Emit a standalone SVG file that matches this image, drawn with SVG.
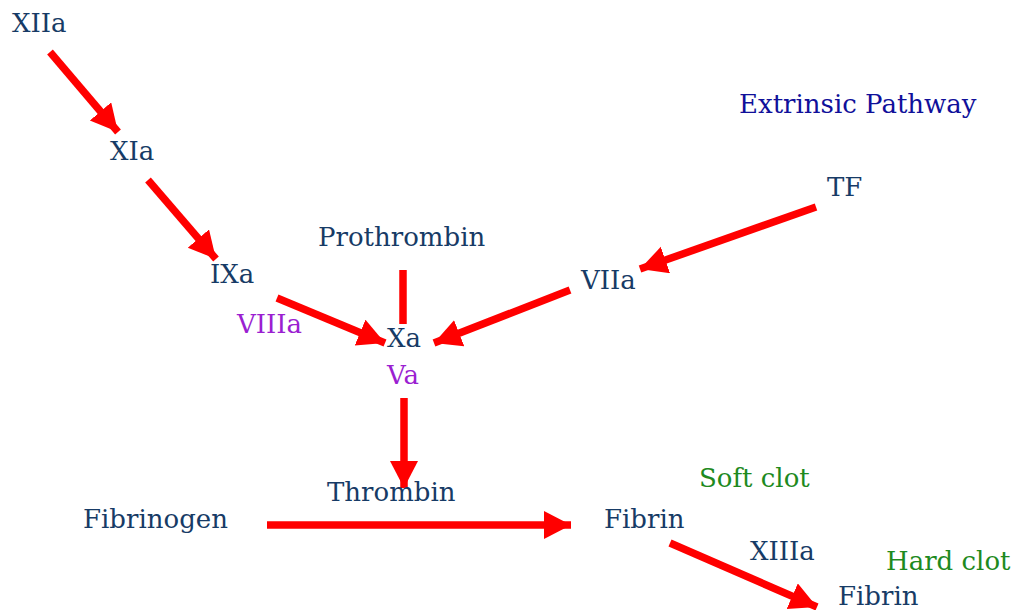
<svg xmlns="http://www.w3.org/2000/svg" width="1012" height="610" viewBox="0 0 1012 610">
<style>
text{font-family:"DejaVu Serif","Liberation Serif",serif;font-size:26px;}
.n{fill:#173B66;}
.p{fill:#9B1FD1;}
.g{fill:#1E8A1E;}
.e{fill:#10109A;}
.c line{stroke:#FF0000;stroke-width:7.5;}
</style>
<defs>
<marker id="ah" markerUnits="userSpaceOnUse" markerWidth="30" markerHeight="30" refX="27" refY="14" orient="auto" viewBox="0 0 30 30">
<path d="M0,0 L27,14 L0,28 Z" fill="#FF0000"/>
</marker>
</defs>
<rect width="1012" height="610" fill="#fff"/>
<g id="connectors" class="c">
<line x1="50" y1="52" x2="118" y2="132" marker-end="url(#ah)"/>
<line x1="148" y1="180" x2="216" y2="259" marker-end="url(#ah)"/>
<line x1="277" y1="298" x2="385" y2="343" marker-end="url(#ah)"/>
<line x1="403" y1="270" x2="403" y2="324"/>
<line x1="570" y1="290" x2="434" y2="343" marker-end="url(#ah)"/>
<line x1="816" y1="207" x2="640" y2="269" marker-end="url(#ah)"/>
<line x1="404" y1="398" x2="404" y2="488" marker-end="url(#ah)"/>
<line x1="267" y1="525" x2="571" y2="525" marker-end="url(#ah)"/>
<line x1="670" y1="543" x2="817" y2="607" marker-end="url(#ah)"/>
</g>
<g id="XIIa"><text class="n" x="12" y="32">XIIa</text></g>
<g id="XIa"><text class="n" x="110" y="160">XIa</text></g>
<g id="IXa"><text class="n" x="210" y="283">IXa</text></g>
<g id="VIIIa"><text class="p" x="237" y="333">VIIIa</text></g>
<g id="Prothrombin"><text class="n" x="318" y="246">Prothrombin</text></g>
<g id="Xa"><text class="n" x="387" y="347">Xa</text></g>
<g id="Va"><text class="p" x="387" y="384">Va</text></g>
<g id="VIIa"><text class="n" x="581" y="289">VIIa</text></g>
<g id="TF"><text class="n" x="827" y="196">TF</text></g>
<g id="ExtrinsicPathway"><text class="e" x="739" y="113">Extrinsic Pathway</text></g>
<g id="Thrombin"><text class="n" x="327" y="501">Thrombin</text></g>
<g id="Fibrinogen"><text class="n" x="83" y="528">Fibrinogen</text></g>
<g id="Fibrin1"><text class="n" x="604" y="528">Fibrin</text></g>
<g id="SoftClot"><text class="g" x="699" y="487">Soft clot</text></g>
<g id="XIIIa"><text class="n" x="750" y="560">XIIIa</text></g>
<g id="HardClot"><text class="g" x="886" y="570">Hard clot</text></g>
<g id="Fibrin2"><text class="n" x="838" y="605">Fibrin</text></g>
</svg>
